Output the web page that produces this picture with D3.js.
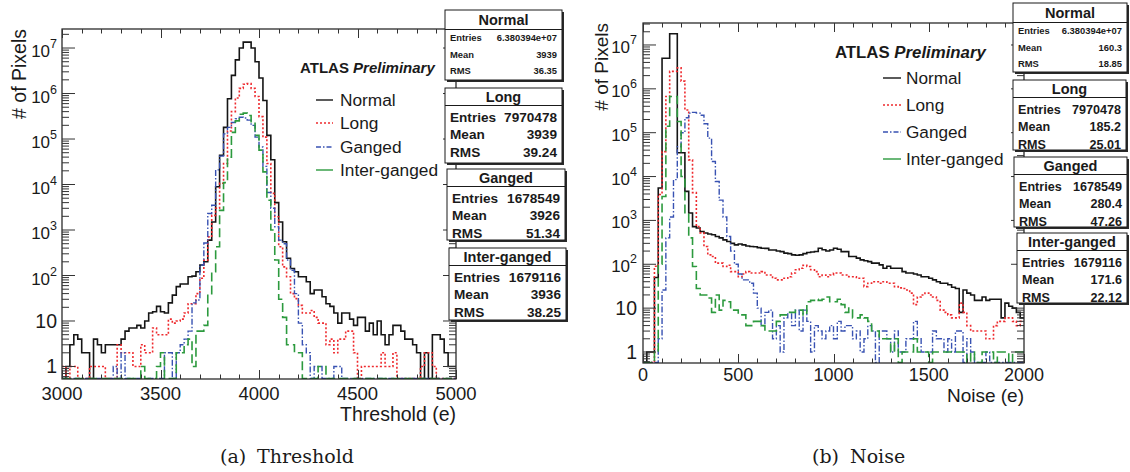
<!DOCTYPE html>
<html>
<head>
<meta charset="utf-8">
<script src="https://cdn.jsdelivr.net/npm/d3@7"></script>
<style>
  body { margin: 0; background: #fff; }
  svg { display: block; font-family: "Liberation Sans", Arial, sans-serif; }
</style>
</head>
<body>
<div id="chart"></div>
<script>
// ---- data (counts per 20 e bin) ----
const seriesNames = ["Normal", "Long", "Ganged", "Inter-ganged"];
const binWidth = 20;
const thresholdStart = 3000;
const noiseStart = 0;

const thresholdNormal = [
  0, 1, 3, 5, 4, 2, 2, 0, 4, 3,
  2, 3, 3, 3, 3, 4, 6, 7, 7, 8,
  7, 10, 15, 16, 21, 16, 15, 25, 37, 57,
  65, 65, 94, 97, 121, 170, 200, 600, 1500, 8900,
  4.4e4, 1.8e5, 7.7e5, 2.5e6, 5.5e6, 1e7, 1.35e7, 1.35e7, 1e7, 5e6,
  2.2e6, 7e5, 1.2e5, 3.5e4, 4000, 1500, 550, 240, 143, 121,
  94, 94, 73, 40, 48, 48, 34, 24, 21, 15,
  9, 15, 15, 11, 8, 12, 12, 6, 9, 5,
  10, 5, 3, 5, 8, 8, 6, 4, 4, 3,
  2, 0, 2, 0, 5, 5, 4, 2, 1, 1
];
const thresholdLong = [
  1, 0, 1, 1, 0, 0, 0, 1, 1, 1,
  1, 0, 0, 0, 3, 2, 2, 2, 1, 1,
  3, 2, 2, 7, 5, 5, 5, 11, 9, 10,
  11, 15, 24, 24, 40, 87, 218, 705, 2100, 3000,
  1.07e4, 2.9e4, 1.5e5, 4e5, 8e5, 1.3e6, 1.6e6, 1.65e6, 1.3e6, 8.6e5,
  3.1e5, 1.1e5, 2.9e4, 6400, 1960, 430, 155, 94, 40, 31,
  22, 15, 15, 17, 12, 9, 9, 3, 4, 2,
  4, 4, 6, 6, 2, 0, 1, 1, 1, 1,
  1, 2, 1, 1, 2, 0, 0, 0, 0, 0,
  0, 1, 2, 2, 1, 0, 0, 0, 0, 0
];
const thresholdGanged = [
  0, 0, 0, 0, 0, 0, 0, 0, 0, 0,
  0, 0, 0, 1, 0, 2, 0, 0, 0, 0,
  0, 0, 0, 0, 0, 0, 2, 2, 0, 2,
  3, 4, 6, 25, 29, 170, 520, 2300, 3500, 2.1e4,
  4.2e4, 1.3e5, 1.8e5, 2.3e5, 2.8e5, 3e5, 2.9e5, 2.6e5, 2e5, 1.1e5,
  6.7e4, 2.5e4, 6700, 3000, 1180, 600, 500, 220, 130, 40,
  9, 3, 2, 0, 1, 1, 0, 0, 0, 1,
  1, 0, 0, 0, 0, 0, 0, 0, 0, 0,
  0, 0, 0, 0, 0, 0, 0, 0, 0, 0,
  0, 0, 0, 0, 0, 0, 0, 0, 0, 0
];
const thresholdInter = [
  0, 0, 0, 0, 0, 0, 0, 0, 0, 0,
  0, 0, 0, 0, 0, 0, 0, 0, 0, 0,
  1, 0, 0, 0, 1, 2, 0, 0, 0, 2,
  2, 3, 4, 1, 6, 6, 8, 40, 121, 430,
  2700, 1.1e4, 4e4, 1.4e5, 2.5e5, 3.5e5, 3.7e5, 3.3e5, 2.3e5, 1.2e5,
  5.7e4, 1.9e4, 4500, 1000, 220, 30, 12, 3, 3, 2,
  2, 0, 0, 0, 0, 1, 1, 0, 0, 0,
  0, 0, 0, 0, 0, 0, 0, 0, 0, 0,
  0, 0, 0, 0, 0, 0, 0, 0, 0, 0,
  0, 0, 0, 0, 0, 0, 0, 0, 0, 0
];

const noiseNormal = [
  0, 1, 1, 50, 5500, 5e6, 5e6, 1.8e7, 1.8e7, 3.5e4,
  3.5e4, 4600, 1480, 720, 670, 560, 515, 490, 470, 430,
  400, 360, 330, 300, 277, 290, 277, 260, 254, 250,
  240, 232, 230, 212, 212, 200, 194, 180, 175, 164,
  160, 164, 175, 185, 190, 195, 232, 215, 200, 212,
  232, 220, 194, 194, 150, 150, 138, 126, 120, 115,
  106, 106, 97, 81, 90, 81, 81, 81, 68, 63,
  63, 60, 57, 52, 52, 48, 44, 40, 37, 37,
  34, 30, 28, 8, 26, 22, 20, 15, 15, 18,
  15, 16, 16, 16, 6, 13, 11, 10, 8, 6
];
const noiseLong = [
  0, 0, 0, 90, 3900, 3.7e4, 6.7e5, 2.5e6, 2.5e6, 3e6,
  1.5e6, 3.3e5, 2.4e4, 4300, 720, 520, 254, 164, 150, 106,
  106, 89, 95, 68, 68, 52, 60, 68, 63, 63,
  63, 68, 57, 57, 48, 44, 44, 48, 52, 63,
  75, 81, 95, 89, 75, 68, 52, 57, 52, 57,
  63, 63, 57, 57, 52, 52, 48, 48, 31, 37,
  40, 40, 37, 40, 37, 37, 31, 29, 28, 26,
  22, 12, 18, 20, 22, 20, 18, 15, 9, 8,
  7, 6, 6, 13, 8, 4, 3, 3, 3, 3,
  2, 2, 4, 5, 5, 6, 6, 5, 4, 5
];
const noiseGanged = [
  0, 0, 0, 0, 2, 26, 400, 1200, 8500, 4.8e4,
  1e5, 2.2e5, 2.8e5, 2.9e5, 2.8e5, 2.5e5, 1.6e5, 7.5e4, 2.2e4, 7700,
  2900, 1200, 430, 200, 100, 60, 44, 44, 37, 22,
  10, 4, 8, 9, 2, 4, 1, 6, 8, 4,
  9, 3, 9, 5, 1, 4, 3, 2, 3, 4,
  2, 5, 3, 4, 4, 2, 3, 1, 2, 4,
  3, 0, 3, 3, 2, 1, 3, 1, 1, 2,
  2, 5, 2, 1, 1, 1, 3, 2, 2, 1,
  2, 1, 3, 3, 0, 2, 1, 0, 0, 0,
  1, 0, 0, 0, 0, 0, 0, 0, 0, 0
];
const noiseInter = [
  0, 0, 0, 1, 100, 3500, 1.4e5, 6.7e5, 6.7e5, 1.8e5,
  1e4, 1400, 400, 89, 28, 20, 20, 17, 8, 20,
  9, 15, 14, 9, 9, 7, 7, 4, 4, 5,
  5, 4, 3, 3, 3, 5, 7, 7, 8, 8,
  9, 9, 7, 14, 15, 16, 15, 16, 18, 14,
  14, 16, 12, 8, 10, 6, 6, 7, 6, 5,
  3, 3, 2, 2, 2, 1, 2, 0, 1, 1,
  1, 2, 1, 1, 1, 0, 1, 1, 1, 1,
  1, 1, 1, 1, 1, 0, 1, 0, 0, 1,
  1, 1, 0, 1, 1, 1, 0, 1, 1, 1
];

const entries = ["6.380394e+07", "7970478", "1678549", "1679116"];
const thresholdMean = ["3939", "3939", "3926", "3936"];
const thresholdRms = ["36.35", "39.24", "51.34", "38.25"];
const noiseMean = ["160.3", "185.2", "280.4", "171.6"];
const noiseRms = ["18.85", "25.01", "47.26", "22.12"];

// ---- styles ----
const styles = [
  { color: "#151515", dash: null, width: 1.6, legendDash: null },
  { color: "#ee2a2e", dash: "2,2", width: 1.6, legendDash: "2,2" },
  { color: "#3852b2", dash: "6,2,1.5,2", width: 1.4, legendDash: "5,2,1.5,2" },
  { color: "#2c9a3e", dash: "9,4", width: 1.6, legendDash: null }
];

const panels = [
  {
    start: thresholdStart, series: [thresholdNormal, thresholdLong, thresholdGanged, thresholdInter],
    mean: thresholdMean, rms: thresholdRms,
    left: 62, right: 456, top: 29, bottom: 379,
    xDomain: [3000, 5000], yDomain: [0.531, 2.62e7],
    tickFont: 18.5, powBase: 9, plainBase: 7, labelGap: 5,
    xLabelY: 400, xTitle: "Threshold (e)", xTitleY: 420.5,
    yTitleX: 26, titleFont: 19.5,
    atlas: { x: 300, y: 73, size: 15 },
    legend: { lineX: 316, lineW: 17, textX: 340, ys: [100, 123, 147, 170], size: 17.3 },
    boxes: [[445, 10, 117, 70], [445, 88, 117, 75], [447, 169, 118, 71], [449, 248, 117, 72]],
    rowFont: 13.6,
    caption: { a: "(a)", b: "Threshold", x: 220, x2: 257 }
  },
  {
    start: noiseStart, series: [noiseNormal, noiseLong, noiseGanged, noiseInter],
    mean: noiseMean, rms: noiseRms,
    left: 643, right: 1024, top: 23, bottom: 363,
    xDomain: [0, 2000], yDomain: [0.561, 3.17e7],
    tickFont: 18, powBase: 8, plainBase: 7, labelGap: 6,
    xLabelY: 381, xTitle: "Noise (e)", xTitleY: 402,
    yTitleX: 608, titleFont: 19,
    atlas: { x: 835, y: 58, size: 16.8 },
    legend: { lineX: 883, lineW: 18, textX: 906, ys: [78, 105, 132, 159], size: 17.2 },
    boxes: [[1013, 3, 114, 69], [1013, 80, 113, 70], [1014, 157, 113, 70], [1017, 233, 110, 70]],
    rowFont: 12.6,
    caption: { a: "(b)", b: "Noise", x: 812, x2: 850 }
  }
];

const svg = d3.select("#chart").append("svg").attr("width", 1130).attr("height", 472);

panels.forEach((p, pi) => drawPanel(svg.append("g"), p, pi));

function drawPanel(g, p, pi) {
  const x = d3.scaleLinear().domain(p.xDomain).range([p.left, p.right]);
  const y = d3.scaleLog().domain(p.yDomain).range([p.bottom, p.top]).clamp(true);
  const ink = "#1a1a1a";

  const clipId = "clip" + pi;
  g.append("clipPath").attr("id", clipId)
    .append("rect").attr("x", p.left).attr("y", p.top)
    .attr("width", p.right - p.left).attr("height", p.bottom - p.top);

  // histograms
  const line = d3.line();
  const hg = g.append("g").attr("clip-path", `url(#${clipId})`);
  p.series.forEach((vals, k) => {
    const pts = vals.flatMap((v, i) => {
      const x0 = x(p.start + i * binWidth), x1 = x(p.start + (i + 1) * binWidth);
      const yy = v > 0 ? y(v) : p.bottom - 0.5;
      return [[x0, yy], [x1, yy]];
    });
    hg.append("path").attr("d", line(pts))
      .attr("fill", "none")
      .attr("stroke", styles[k].color)
      .attr("stroke-width", styles[k].width)
      .attr("stroke-dasharray", styles[k].dash);
  });

  // frame
  g.append("rect").attr("x", p.left).attr("y", p.top)
    .attr("width", p.right - p.left).attr("height", p.bottom - p.top)
    .attr("fill", "none").attr("stroke", ink).attr("stroke-width", 1.2);

  const ticks = g.append("g").attr("stroke", "#333").attr("stroke-width", 1);
  // x ticks (bottom & top)
  const [xa, xb] = p.xDomain;
  d3.range(xa, xb + 1, 100).forEach(v => {
    const major = v % 500 === 0;
    const len = major ? 9 : 4.5;
    const xx = Math.round(x(v)) + 0.5;
    ticks.append("line").attr("x1", xx).attr("x2", xx).attr("y1", p.bottom).attr("y2", p.bottom - len);
    ticks.append("line").attr("x1", xx).attr("x2", xx).attr("y1", p.top).attr("y2", p.top + len);
  });
  // y ticks (left & right), log scale
  const [ya, yb] = p.yDomain;
  for (let e = -1; e <= 7; e++) {
    for (let m = 1; m <= 9; m++) {
      const v = m * Math.pow(10, e);
      if (v < ya || v > yb) continue;
      const len = m === 1 ? 13 : 7;
      const yy = y(v);
      ticks.append("line").attr("x1", p.left).attr("x2", p.left + len).attr("y1", yy).attr("y2", yy);
      ticks.append("line").attr("x1", p.right).attr("x2", p.right - len).attr("y1", yy).attr("y2", yy);
    }
  }

  // x tick labels
  g.append("g").selectAll("text").data(d3.range(xa, xb + 1, 500)).join("text")
    .attr("x", d => x(d)).attr("y", p.xLabelY)
    .attr("text-anchor", "middle").attr("font-size", p.tickFont).attr("fill", ink)
    .text(d => d3.format("d")(d));

  // y tick labels
  d3.range(0, 8).forEach(e => {
    const yy = y(Math.pow(10, e));
    const t = g.append("text").attr("text-anchor", "end").attr("fill", ink)
      .attr("x", p.left - p.labelGap);
    if (e < 2) {
      t.attr("y", yy + p.plainBase).attr("font-size", 19.5).text(e === 0 ? "1" : "10");
    } else {
      t.attr("y", yy + p.powBase);
      t.append("tspan").attr("font-size", 17).text("10");
      t.append("tspan").attr("font-size", 12.5).attr("dy", -9).text(e);
    }
  });

  // axis titles
  g.append("text").attr("x", p.right).attr("y", p.xTitleY)
    .attr("text-anchor", "end").attr("font-size", p.titleFont).attr("fill", ink)
    .text(p.xTitle);
  g.append("text")
    .attr("transform", `translate(${p.yTitleX},${p.top}) rotate(-90)`)
    .attr("text-anchor", "end").attr("font-size", p.titleFont).attr("fill", ink)
    .text("# of Pixels");

  // ATLAS label
  const at = g.append("text").attr("x", p.atlas.x).attr("y", p.atlas.y)
    .attr("font-size", p.atlas.size).attr("font-weight", "bold").attr("fill", ink);
  at.append("tspan").text("ATLAS ");
  at.append("tspan").attr("font-style", "italic").text("Preliminary");

  // legend
  seriesNames.forEach((name, k) => {
    const ly = p.legend.ys[k];
    g.append("line")
      .attr("x1", p.legend.lineX).attr("x2", p.legend.lineX + p.legend.lineW)
      .attr("y1", ly).attr("y2", ly)
      .attr("stroke", styles[k].color).attr("stroke-width", 1.4)
      .attr("stroke-dasharray", styles[k].legendDash);
    g.append("text").attr("x", p.legend.textX).attr("y", ly + 6.2)
      .attr("font-size", p.legend.size).attr("fill", ink).text(name);
  });

  // stat boxes
  p.boxes.forEach(([bx, by, bw, bh], k) => {
    const small = k === 0;
    const box = g.append("g").attr("font-weight", "bold").attr("fill", ink);
    box.append("rect").attr("x", bx + 2).attr("y", by + 2).attr("width", bw).attr("height", bh)
      .attr("fill", "#2a2a2a");
    box.append("rect").attr("x", bx).attr("y", by).attr("width", bw).attr("height", bh)
      .attr("fill", "#fff").attr("stroke", ink).attr("stroke-width", 1);
    const sep = by + (small ? 19.5 : 17.5);
    box.append("line").attr("x1", bx).attr("x2", bx + bw).attr("y1", sep).attr("y2", sep)
      .attr("stroke", ink).attr("stroke-width", 1);
    box.append("text").attr("x", bx + bw / 2).attr("y", by + (small ? 15 : 13.8))
      .attr("text-anchor", "middle").attr("font-size", 14.5).text(seriesNames[k]);
    const rows = [["Entries", entries[k]], ["Mean", p.mean[k]], ["RMS", p.rms[k]]];
    const offs = small ? [30.5, 47.5, 64] : [33.5, 51, 68.5];
    rows.forEach(([lab, val], r) => {
      const ty = by + offs[r];
      const fs = small ? 9.4 : p.rowFont;
      box.append("text").attr("x", bx + 5).attr("y", ty).attr("font-size", fs).text(lab);
      box.append("text").attr("x", bx + bw - 5).attr("y", ty).attr("text-anchor", "end")
        .attr("font-size", fs).text(val);
    });
  });

  // caption
  const cap = g.append("g").attr("font-family", "'DejaVu Serif', 'Liberation Serif', serif")
    .attr("font-size", 19).attr("fill", ink);
  cap.append("text").attr("x", p.caption.x).attr("y", 463).text(p.caption.a);
  cap.append("text").attr("x", p.caption.x2).attr("y", 463).text(p.caption.b);
}
</script>
</body>
</html>
